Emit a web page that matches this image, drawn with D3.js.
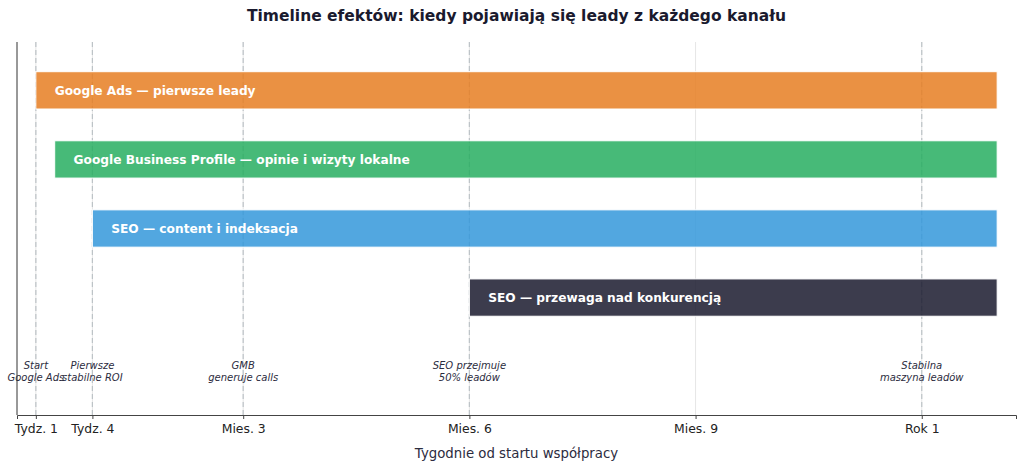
<!DOCTYPE html>
<html>
<head>
<meta charset="utf-8">
<script src="https://cdn.jsdelivr.net/npm/d3@7"></script>
<style>
  html, body { margin: 0; padding: 0; background: #fff; }
  svg { display: block; font-family: "DejaVu Sans", sans-serif; }
</style>
</head>
<body>
<div id="chart"></div>
<script>
// --- data ---
const channels = [
  "Google Ads — pierwsze leady",
  "Google Business Profile — opinie i wizyty lokalne",
  "SEO — content i indeksacja",
  "SEO — przewaga nad konkurencją"
];
const startWeek = [1, 2, 4, 24];
const endWeek = [52, 52, 52, 52];
const colors = ["#e67e22", "#27ae60", "#3498db", "#1a1a2e"];

const tickWeeks = [1, 4, 12, 24, 36, 48];
const tickLabels = ["Tydz. 1", "Tydz. 4", "Mies. 3", "Mies. 6", "Mies. 9", "Rok 1"];

const milestoneWeeks = [1, 4, 12, 24, 48];
const milestoneText = [
  ["Start", "Google Ads"],
  ["Pierwsze", "stabilne ROI"],
  ["GMB", "generuje calls"],
  ["SEO przejmuje", "50% leadów"],
  ["Stabilna", "maszyna leadów"]
];

// --- layout ---
const W = 1024, H = 468;
const m = { left: 17, right: 8, top: 42, bottom: 53 };

const svg = d3.select("#chart").append("svg").attr("width", W).attr("height", H);

const x = d3.scaleLinear().domain([0, 53]).range([m.left, W - m.right]);
// rows: index 0 on top
const y = d3.scaleLinear().domain([-1.7, 3.7]).range([H - m.bottom, m.top]);
const rowY = i => 3 - i;
const barH = y(0) - y(0.54);

// grid (faint) at ticks
svg.append("g").selectAll("line").data(tickWeeks).join("line")
  .attr("x1", d => x(d)).attr("x2", d => x(d))
  .attr("y1", m.top).attr("y2", H - m.bottom)
  .attr("stroke", "#e6e6e6").attr("stroke-width", 1);

// milestone dashed lines
svg.append("g").selectAll("line").data(milestoneWeeks).join("line")
  .attr("x1", d => x(d)).attr("x2", d => x(d))
  .attr("y1", m.top).attr("y2", H - m.bottom)
  .attr("stroke", "#bdc3c7").attr("stroke-width", 1.2)
  .attr("stroke-dasharray", "5,3");

// bars
svg.append("g").selectAll("rect").data(channels).join("rect")
  .attr("x", (d, i) => x(startWeek[i]))
  .attr("y", (d, i) => y(rowY(i)) - barH / 2)
  .attr("width", (d, i) => x(endWeek[i]) - x(startWeek[i]))
  .attr("height", barH)
  .attr("fill", (d, i) => colors[i])
  .attr("fill-opacity", 0.85)
  .attr("stroke", "#fff").attr("stroke-width", 1);

// bar labels
svg.append("g").selectAll("text").data(channels).join("text")
  .attr("x", (d, i) => x(startWeek[i] + 1))
  .attr("y", (d, i) => y(rowY(i)))
  .attr("dy", "0.36em")
  .attr("fill", "#fff")
  .attr("font-weight", "bold")
  .attr("font-size", 12.2)
  .text(d => d);

// milestone annotations
const ann = svg.append("g").selectAll("text").data(milestoneText).join("text")
  .attr("x", (d, i) => x(milestoneWeeks[i]))
  .attr("y", y(-1) + 2)
  .attr("text-anchor", "middle")
  .attr("font-style", "italic")
  .attr("font-size", 10)
  .attr("fill", "#2c2c3e");
ann.selectAll("tspan").data(d => d).join("tspan")
  .attr("x", function () { return this.parentNode.getAttribute("x"); })
  .attr("dy", (d, j) => j === 0 ? 0 : "1.2em")
  .text(d => d);

// axes
const xAxis = d3.axisBottom(x).tickValues(tickWeeks)
  .tickFormat((d, i) => tickLabels[i]).tickSize(4).tickPadding(5);
const gx = svg.append("g").attr("transform", `translate(0,${H - m.bottom})`).call(xAxis);
gx.select(".domain").attr("stroke", "#444");
gx.selectAll(".tick line").attr("stroke", "#444");
gx.selectAll("text").attr("font-size", 12.4).attr("fill", "#222").attr("font-family", "DejaVu Sans");

svg.append("line")
  .attr("x1", m.left).attr("x2", m.left)
  .attr("y1", m.top).attr("y2", H - m.bottom)
  .attr("stroke", "#333").attr("stroke-width", 1);

// axis label
svg.append("text")
  .attr("x", (m.left + W - m.right) / 2).attr("y", 458)
  .attr("text-anchor", "middle").attr("font-size", 13.3).attr("fill", "#2c2c3e")
  .text("Tygodnie od startu współpracy");

// title
svg.append("text")
  .attr("x", (m.left + W - m.right) / 2).attr("y", 21)
  .attr("text-anchor", "middle").attr("font-size", 15.5).attr("font-weight", "bold")
  .attr("fill", "#1a1a2e")
  .text("Timeline efektów: kiedy pojawiają się leady z każdego kanału");
</script>
</body>
</html>
